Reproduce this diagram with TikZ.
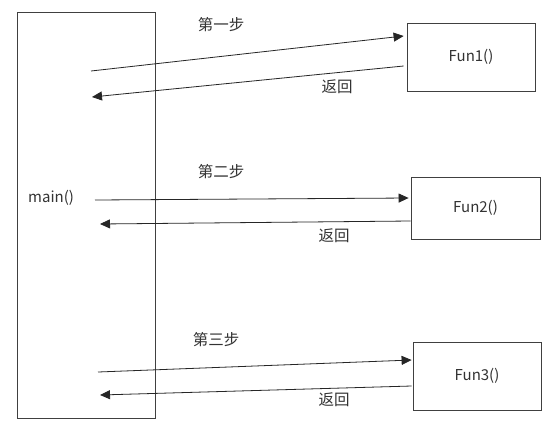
\documentclass[tikz,border=0pt]{standalone}
\usepackage{fontspec}
\newfontfamily\cjk{Noto Sans CJK SC}
\usetikzlibrary{arrows.meta}
\tikzset{
    box/.style={draw=black!75, line width=0.8pt, rectangle, inner sep=0pt, font=\cjk\fontsize{15}{17}\selectfont, text=black!80},
    txt/.style={inner sep=0pt, font=\cjk\fontsize{15.5}{17}\selectfont, text=black!80},
    call/.style={draw=black!85, line width=0.8pt, -{Triangle[length=10pt,width=9pt]}}
}
\begin{document}
\begin{tikzpicture}[x=1pt, y=-1pt]
        \useasboundingbox[fill=white] (0,0) rectangle (554,429);
        % caller
        \node[box, minimum width=138, minimum height=406] (main) at (86,215) {};
        \node[txt, font=\cjk\fontsize{15}{17}\selectfont, anchor=west] (mainlbl) at (28,198) {main()};
        % callees
        \node[box, minimum width=128, minimum height=68] (fun1) at (471,57) {Fun1()};
        \node[box, minimum width=129, minimum height=62] (fun2) at (475.5,208) {Fun2()};
        \node[box, minimum width=128, minimum height=68] (fun3) at (477,376) {Fun3()};
        % ends inside main
        \coordinate (s1) at (91,71);
        \coordinate (r1) at (92,97);
        \coordinate (s2) at (95,200);
        \coordinate (r2) at (100,224);
        \coordinate (s3) at (98,372);
        \coordinate (r3) at (100,395);
        % ends at the callees
        \coordinate (in1) at ([xshift=-3pt,yshift=21pt]fun1.west);
        \coordinate (out1) at ([xshift=-3pt,yshift=-9pt]fun1.west);
        \coordinate (in2) at ([xshift=-2pt,yshift=10pt]fun2.west);
        \coordinate (out2) at ([yshift=-13pt]fun2.west);
        \coordinate (in3) at ([xshift=-1pt,yshift=16pt]fun3.west);
        \coordinate (out3) at ([xshift=-1pt,yshift=-10pt]fun3.west);
        % calls and returns
        \draw[call] (s1) -- (in1);
        \draw[call] (out1) -- (r1);
        \draw[call] (s2) -- (in2);
        \draw[call] (out2) -- (r2);
        \draw[call] (s3) -- (in3);
        \draw[call] (out3) -- (r3);
        % labels
        \node[txt] (step1) at (221,25) {第一步};
        \node[txt] (back1) at (337,87) {返回};
        \node[txt] (step2) at (221,172) {第二步};
        \node[txt] (back2) at (334,236) {返回};
        \node[txt] (step3) at (216,340) {第三步};
        \node[txt] (back3) at (334,400) {返回};
\end{tikzpicture}
\end{document}
